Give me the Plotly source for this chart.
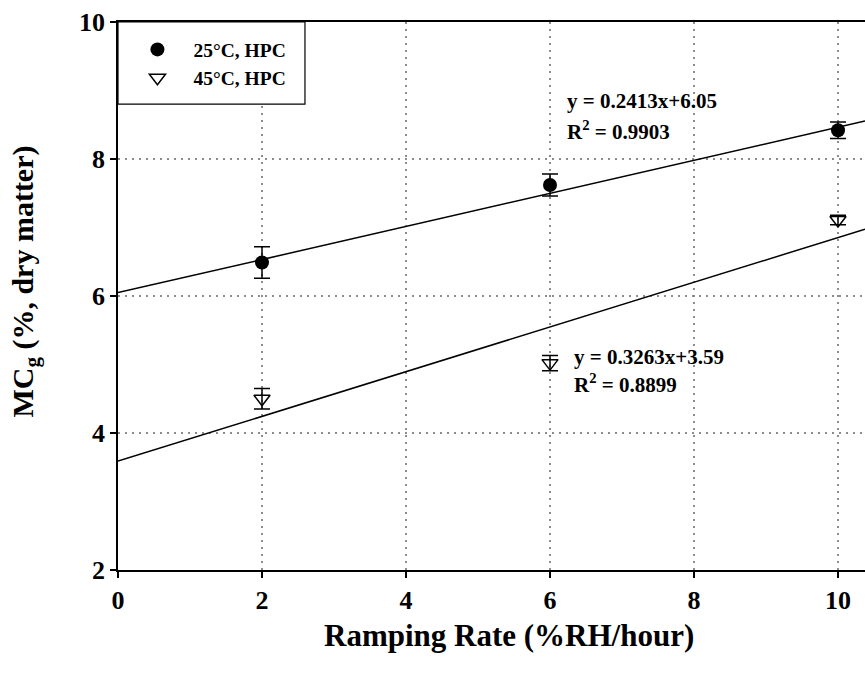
import plotly.graph_objects as go

# Ramping rate (%RH/hour)
ramp_rate = [2, 6, 10]

# Equilibrium moisture content, 25 °C HPC
mc_25 = [6.49, 7.62, 8.42]
err_25 = [0.23, 0.16, 0.12]

# Equilibrium moisture content, 45 °C HPC
mc_45 = [4.50, 5.02, 7.11]
err_45 = [0.15, 0.11, 0.07]

# Linear fits (slope, intercept, R^2)
fit_25 = (0.2413, 6.05, 0.9903)
fit_45 = (0.3263, 3.59, 0.8899)

x_max = 10.375
x_ticks = [0, 2, 4, 6, 8, 10]
y_ticks = [2, 4, 6, 8, 10]

FONT = "Liberation Serif"
GRID = dict(showgrid=True, gridcolor="#8c8c8c", gridwidth=1.6, griddash="2px,5px")


def bold(size):
    return dict(family=FONT, size=size, color="black", weight="bold")


fig = go.Figure()

# regression lines across the whole axis
for slope, icpt, _ in (fit_25, fit_45):
    xs = [0, x_max]
    fig.add_trace(go.Scatter(
        x=xs, y=[slope * v + icpt for v in xs], mode="lines",
        line=dict(color="black", width=1.5), showlegend=False, hoverinfo="skip"))

fig.add_trace(go.Scatter(
    x=ramp_rate, y=mc_25, mode="markers", name="25°C, HPC",
    marker=dict(symbol="circle", size=14, color="black"),
    error_y=dict(type="data", array=err_25, color="black", thickness=1.5, width=8)))

fig.add_trace(go.Scatter(
    x=ramp_rate, y=mc_45, mode="markers", name="45°C, HPC",
    marker=dict(symbol="triangle-down-open", size=14, color="black",
                line=dict(color="black", width=1.5)),
    error_y=dict(type="data", array=err_45, color="black", thickness=1.5, width=8)))

for (slope, icpt, r2), (ax, ay1, ay2) in zip(
        (fit_25, fit_45), ((6.21, 8.85, 8.41), (6.31, 5.11, 4.72))):
    fig.add_annotation(x=ax, y=ay1, xref="x", yref="y", xanchor="left", yanchor="middle",
                       text=f"y = {slope}x+{icpt}", showarrow=False, font=bold(21))
    fig.add_annotation(x=ax, y=ay2, xref="x", yref="y", xanchor="left", yanchor="middle",
                       text=f"R<sup>2</sup> = {r2}", showarrow=False, font=bold(21))

# axis titles
fig.add_annotation(x=0.523, y=-0.12, xref="paper", yref="paper",
                   xanchor="center", yanchor="middle", showarrow=False,
                   text="Ramping Rate (%RH/hour)", font=bold(31))
fig.add_annotation(x=-0.124, y=0.527, xref="paper", yref="paper",
                   xanchor="center", yanchor="middle", showarrow=False, textangle=-90,
                   text="MC<sub>g</sub> (%, dry matter)", font=bold(30))

# legend frame
fig.add_shape(type="rect", xref="paper", yref="paper", x0=0, x1=0.2503, y0=0.850, y1=1,
              line=dict(color="black", width=1.2), fillcolor="white", layer="above")

fig.update_layout(
    width=865, height=676,
    margin=dict(l=118, r=0, t=22, b=106),
    plot_bgcolor="white", paper_bgcolor="white",
    font=dict(family=FONT, color="black"),
    legend=dict(x=0.0046, y=0.985, xanchor="left", yanchor="top",
                bgcolor="rgba(0,0,0,0)", borderwidth=0,
                font=bold(19.5), itemwidth=62, tracegroupgap=0),
    xaxis=dict(range=[0, x_max], tickvals=x_ticks, tickfont=bold(26),
               showline=True, linecolor="black", linewidth=1.5, mirror=True,
               ticks="outside", ticklen=6, tickwidth=1.5, tickcolor="black",
               zeroline=False, **GRID),
    yaxis=dict(range=[2, 10], tickvals=y_ticks, tickfont=bold(26),
               showline=True, linecolor="black", linewidth=1.5, mirror=False,
               ticks="outside", ticklen=6, tickwidth=1.5, tickcolor="black",
               zeroline=False, **GRID),
)

fig.write_html("out.html")
